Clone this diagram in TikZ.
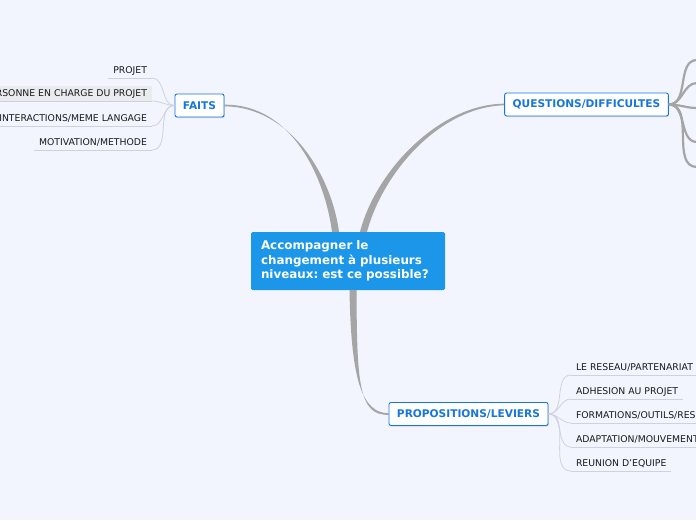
\documentclass[tikz,border=0pt]{standalone}
\usepackage{fontspec}
\setmainfont{DejaVu Sans}
\usetikzlibrary{positioning,calc,shadows}
\frenchspacing

\definecolor{bgcol}{RGB}{242,245,254}
\definecolor{mainblue}{RGB}{27,150,232}
\definecolor{topicblue}{RGB}{22,118,222}
\definecolor{branchgray}{RGB}{165,165,165}
\definecolor{leafgray}{RGB}{206,210,220}
\definecolor{markgray}{RGB}{234,235,238}

\tikzset{
  central/.style={fill=mainblue, rounded corners=1.5pt, text=white, align=left,
    font=\fontsize{11.9}{14.5}\selectfont\bfseries, text width=174pt,
    inner xsep=10pt, minimum height=58pt},
  topic/.style={draw=topicblue, fill=white, rounded corners=2pt, line width=0.9pt,
    text=topicblue, font=\fontsize{10.6}{12}\selectfont\bfseries, inner xsep=8pt,
    minimum height=23pt, drop shadow={opacity=0.25,shadow xshift=0.8pt,shadow yshift=-1pt}},
  leaf/.style={font=\fontsize{9.3}{10}\selectfont, text=black!90, inner xsep=5pt,
    inner ysep=0pt, text height=6.8pt, text depth=0pt, outer sep=0pt,
    minimum height=15pt},
  leafline/.style={draw=leafgray, line width=0.8pt},
  subline/.style={draw=branchgray, line width=2.2pt},
}

\begin{document}
\begin{tikzpicture}[x=1pt,y=-1pt]
\fill[bgcol] (0,0) rectangle (696,520);
\useasboundingbox (0,0) rectangle (696,520);
\clip (0,0) rectangle (696,520);

% main idea and topics
\node[central] (root) at (348,261) {Accompagner le\\changement à plusieurs\\niveaux: est ce possible?};
\node[topic] (faits) at (199.5,105.5) {FAITS};
\node[topic] (quest) at (586.5,104.5) {QUESTIONS/DIFFICULTES};
\node[topic] (props) at (468.5,414) {PROPOSITIONS/LEVIERS};

% tapered branches
\fill[branchgray] ($(faits.east)+(0,-0.8)$) .. controls (292,104) and (325,178) .. ($(root.north)+(-16,0)$)
  -- ($(root.north)+(-9,0)$) .. controls (332,178) and (292,107) .. ($(faits.east)+(0,0.8)$) -- cycle;
\fill[branchgray] ($(quest.west)+(0,-0.8)$) .. controls (440,104) and (376,170) .. ($(root.north)+(12,0)$)
  -- ($(root.north)+(19,0)$) .. controls (383,172) and (440,107) .. ($(quest.west)+(0,0.8)$) -- cycle;
\fill[branchgray] ($(root.south)+(1.5,0)$) .. controls (351,380) and (362,413) .. ($(props.west)+(0,-0.8)$)
  -- ($(props.west)+(0,0.8)$) .. controls (358,416) and (357,380) .. ($(root.south)+(8.5,0)$) -- cycle;

% left leaves of FAITS
\node[leaf, anchor=south east] (f1) at (152,78) {PROJET};
\node[leaf, anchor=south east, fill=markgray] (f2) at (152,101) {PERSONNE EN CHARGE DU PROJET};
\node[leaf, anchor=south east] (f3) at (152,126) {INTERACTIONS/MEME LANGAGE};
\node[leaf, anchor=south east] (f4) at (152,150) {MOTIVATION/METHODE};
\foreach \i in {1,...,4} {
  \draw[leafline] (f\i.south west) -- (f\i.south east);
  \draw[leafline] (faits.west) to[out=180,in=0] (f\i.south east);
}

% right leaves of PROPOSITIONS
\node[leaf, anchor=south west] (p1) at (571,375) {LE RESEAU/PARTENARIAT};
\node[leaf, anchor=south west] (p2) at (571,399) {ADHESION AU PROJET};
\node[leaf, anchor=south west] (p3) at (571,423) {FORMATIONS/OUTILS/RES};
\node[leaf, anchor=south west] (p4) at (571,447) {ADAPTATION/MOUVEMENT};
\node[leaf, anchor=south west] (p5) at (571,471) {REUNION D'EQUIPE};
\foreach \i in {1,...,5} {
  \draw[leafline] (p\i.south west) -- (p\i.south east);
  \draw[leafline] (props.east) to[out=0,in=180] (p\i.south west);
}

% sub-branches of QUESTIONS leaving the page
\coordinate (q1) at (697,60);
\coordinate (q2) at (697,83);
\coordinate (q3) at (697,108);
\coordinate (q4) at (697,142);
\coordinate (q5) at (697,167);
\foreach \i in {1,...,5}
  \draw[subline] (quest.east) to[out=0,in=180] (q\i);
\end{tikzpicture}
\end{document}
